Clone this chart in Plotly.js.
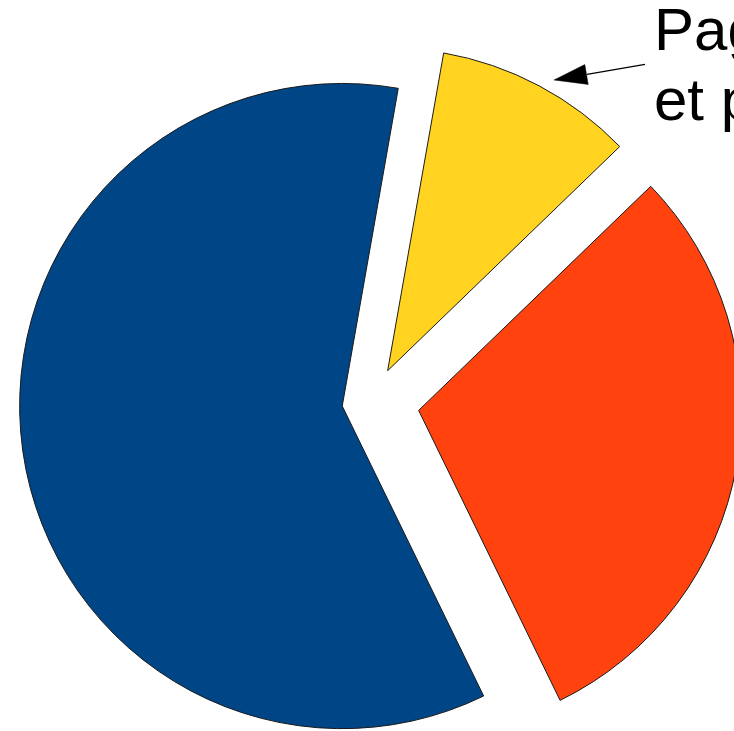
<!DOCTYPE html>
<html>
<head>
<meta charset="utf-8">
<script src="https://cdn.plot.ly/plotly-3.0.1.min.js"></script>
<style>
html, body { margin: 0; padding: 0; overflow: hidden; background: #ffffff; }
#chart { width: 1000px; height: 800px; }
</style>
</head>
<body>
<div id="chart"></div>
<script>
// Slice data (clockwise order starting near 12 o'clock)
const sliceLabels = ['Pag… et p…', 'Slice 2', 'Slice 3'];
const sliceValues = [10, 30, 60];
const sliceColors = ['#ffd320', '#ff420e', '#004586'];
const slicePulls = [0.11, 0.15, 0.09];
const labelLines = ['Pag', 'et p'];

// Layout geometry (pixels)
const W = 1000, H = 800;
const M = { l: 0, r: 0, t: 31, b: 27 };
const plotW = W - M.l - M.r, plotH = H - M.t - M.b;
const px = x => (x - M.l) / plotW;
const py = y => 1 - (y - M.t) / plotH;

const trace = {
  type: 'pie',
  labels: sliceLabels,
  values: sliceValues,
  sort: false,
  direction: 'clockwise',
  rotation: 10,
  pull: slicePulls,
  textinfo: 'none',
  hoverinfo: 'none',
  marker: { colors: sliceColors, line: { color: '#1a1a1a', width: 1 } },
  domain: { x: [0, 742 / plotW], y: [0, 1] },
  showlegend: false
};

const font = { family: '"Liberation Sans", Arial, sans-serif', size: 60, color: '#000000' };

const layout = {
  width: W, height: H,
  margin: M,
  paper_bgcolor: '#ffffff',
  plot_bgcolor: '#ffffff',
  showlegend: false,
  annotations: [
    { xref: 'paper', yref: 'paper', x: px(652), y: py(29), xanchor: 'left', yanchor: 'middle',
      text: labelLines[0], showarrow: false, font: font },
    { xref: 'paper', yref: 'paper', x: px(652), y: py(99), xanchor: 'left', yanchor: 'middle',
      text: labelLines[1], showarrow: false, font: font }
  ],
  shapes: [
    { type: 'line', xref: 'paper', yref: 'paper', x0: px(645), y0: py(64.3), x1: px(587), y1: py(74.3),
      line: { color: '#000000', width: 1.2 } },
    { type: 'path', xref: 'paper', yref: 'paper',
      path: 'M ' + px(554) + ' ' + py(80) + ' L ' + px(584.8) + ' ' + py(64.6) + ' L ' + px(588.2) + ' ' + py(84.4) + ' Z',
      fillcolor: '#000000', line: { color: '#000000', width: 0.5 } }
  ]
};

Plotly.newPlot('chart', [trace], layout, { staticPlot: true, displayModeBar: false });
</script>
</body>
</html>
